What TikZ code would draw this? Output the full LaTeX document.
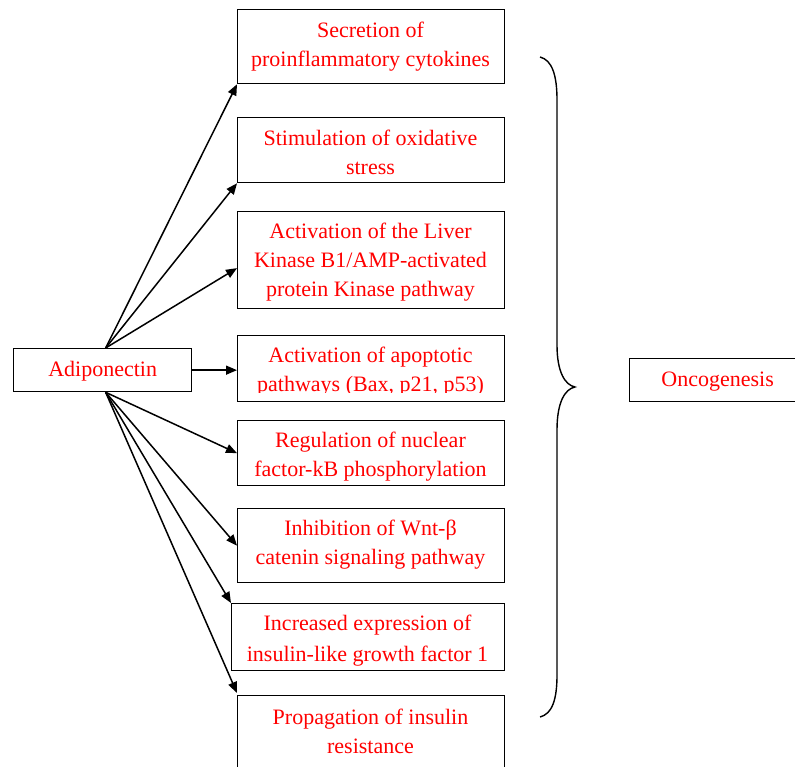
\documentclass[tikz,border=0pt]{standalone}
\usepackage{fontspec}
\setmainfont{Liberation Serif}
\usetikzlibrary{arrows.meta}
\definecolor{txtred}{RGB}{255,0,0}
\tikzset{
  boxframe/.style={draw=black, line width=1.3pt, anchor=north west, inner sep=0pt},
  boxtext/.style={text=txtred, align=center, inner sep=0pt, font=\fontsize{22}{29}\selectfont},
  conn/.style={line width=1.5pt, -{Triangle[length=11pt,width=9pt]}},
}
\begin{document}
\begin{tikzpicture}[x=1pt,y=-1pt]
\useasboundingbox (0,0) rectangle (795,767);
% boxes
\node[boxframe, minimum width=267pt, minimum height=74pt] (b1) at (237,9) {};
\node[boxframe, minimum width=267pt, minimum height=65pt] (b2) at (237,117) {};
\node[boxframe, minimum width=267pt, minimum height=97pt] (b3) at (237,211) {};
\node[boxframe, minimum width=267pt, minimum height=66pt] (b4) at (237,335) {};
\node[boxframe, minimum width=267pt, minimum height=65pt] (b5) at (237,420) {};
\node[boxframe, minimum width=267pt, minimum height=74pt] (b6) at (237,508) {};
\node[boxframe, minimum width=273pt, minimum height=67pt] (b7) at (231,603) {};
\node[boxframe, minimum width=267pt, minimum height=80pt] (b8) at (237,695) {};
\node[boxframe, minimum width=178pt, minimum height=43pt] (adip) at (13,348) {};
\node[boxframe, minimum width=166pt, minimum height=43pt] (onco) at (629,358) {};
% texts
\node[boxtext] (t1) at (370.5,46.5) {Secretion of\\proinflammatory cytokines};
\node[boxtext] (t2) at (370.5,152.5) {Stimulation of oxidative\\stress};
\node[boxtext] (t3) at (370.5,262) {Activation of the Liver\\Kinase B1/AMP-activated\\protein Kinase pathway};
\begin{scope}
\clip (237,335) rectangle (504,392);
\node[boxtext] (t4) at (370.5,371.5) {Activation of apoptotic\\pathways (Bax, p21, p53)};
\end{scope}
\node[boxtext] (t5) at (370.5,456.5) {Regulation of nuclear\\factor-kB phosphorylation};
\node[boxtext] (t6) at (370.5,544.5) {Inhibition of Wnt-β\\catenin signaling pathway};
\node[boxtext, font=\fontsize{22}{30.5}\selectfont] (t7) at (367.5,640.5) {Increased expression of\\insulin-like growth factor 1};
\node[boxtext] (t8) at (370.5,731) {Propagation of insulin\\resistance};
\node[boxtext] (ta) at ([yshift=-1pt]adip.center) {Adiponectin};
\node[boxtext] (to) at ([xshift=5pt,yshift=-1pt]onco.center) {Oncogenesis};
% connectors
\coordinate (otop) at ([xshift=3pt]adip.north);
\coordinate (obot) at ([xshift=3pt]adip.south);
\draw[conn] (otop) -- (b1.south west);
\draw[conn] (otop) -- (b2.south west);
\draw[conn] (otop) -- ([yshift=-8pt]b3.west);
\draw[conn] (adip.east) -- (adip.east -| b4.west);
\draw[conn] (obot) -- (b5.west);
\draw[conn] (obot) -- (b6.west);
\draw[conn] (obot) -- (b7.north west);
\draw[conn] (obot) -- ([yshift=2pt]b8.north west);
% brace
\draw[line width=1.4pt] (540,57) .. controls (552,60) and (557,75) .. (557,100)
  -- (557,345) .. controls (557,372) and (565,385) .. (575,387)
  .. controls (565,389) and (557,402) .. (557,430)
  -- (557,675) .. controls (557,700) and (552,714) .. (540,717);
\end{tikzpicture}
\end{document}
